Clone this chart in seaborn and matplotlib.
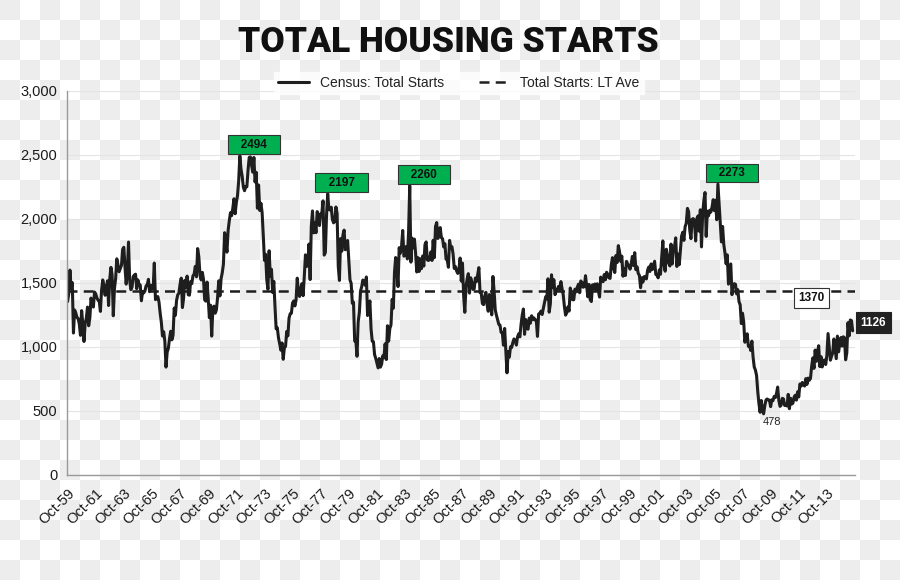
import numpy as np
import pandas as pd
import matplotlib
matplotlib.use("Agg")
import matplotlib.pyplot as plt
import seaborn as sns

# monthly total housing starts (thousands, SAAR), Oct-1959 .. Aug-2015
starts = [
    1355, 1416, 1601,                                                   # 1959 (Oct-Dec)
    1460, 1503, 1109, 1289, 1266, 1231, 1223, 1180, 1091, 1284, 1179, 1043,  # 1960
    1183, 1226, 1312, 1166, 1228, 1382, 1335, 1312, 1429, 1415, 1385, 1365,  # 1961
    1361, 1278, 1443, 1524, 1483, 1404, 1450, 1517, 1324, 1533, 1622, 1564,  # 1962
    1244, 1456, 1534, 1689, 1641, 1588, 1614, 1639, 1763, 1779, 1622, 1491,  # 1963
    1603, 1820, 1517, 1448, 1467, 1550, 1562, 1569, 1455, 1524, 1486, 1484,  # 1964
    1361, 1433, 1423, 1438, 1478, 1488, 1529, 1432, 1482, 1452, 1460, 1656,  # 1965
    1370, 1378, 1394, 1352, 1265, 1194, 1086, 1119, 1046, 843, 961, 990,     # 1966
    1067, 1123, 1056, 1091, 1304, 1248, 1364, 1407, 1421, 1491, 1538, 1308,  # 1967
    1380, 1520, 1466, 1554, 1408, 1405, 1512, 1495, 1556, 1569, 1630, 1548,  # 1968
    1769, 1705, 1561, 1524, 1583, 1528, 1368, 1358, 1507, 1381, 1229, 1327,  # 1969
    1085, 1305, 1319, 1264, 1290, 1385, 1517, 1399, 1534, 1580, 1647, 1893,  # 1970
    1828, 1741, 1910, 1986, 2049, 2026, 2083, 2158, 2041, 2128, 2182, 2295,  # 1971
    2494, 2390, 2334, 2249, 2221, 2254, 2252, 2382, 2481, 2485, 2421, 2366,  # 1972
    2481, 2289, 2365, 2084, 2266, 2067, 2123, 2051, 1874, 1677, 1724, 1526,  # 1973
    1451, 1752, 1555, 1607, 1426, 1513, 1316, 1142, 1150, 1070, 1026, 975,   # 1974
    1032, 904, 993, 1005, 1121, 1087, 1226, 1260, 1264, 1344, 1360, 1321,    # 1975
    1367, 1538, 1421, 1395, 1459, 1495, 1401, 1550, 1720, 1629, 1641, 1804,  # 1976
    1527, 1943, 2063, 1892, 1971, 1893, 2058, 2020, 1949, 2042, 2042, 2142,  # 1977
    1718, 1738, 2032, 2197, 2075, 2070, 2092, 1996, 1970, 1981, 2094, 2044,  # 1978
    1630, 1520, 1847, 1748, 1876, 1913, 1760, 1778, 1832, 1681, 1524, 1498,  # 1979
    1341, 1350, 1047, 1051, 927, 1196, 1269, 1436, 1471, 1523, 1510, 1482,   # 1980
    1547, 1246, 1306, 1360, 1140, 1045, 1041, 940, 911, 873, 837, 910,       # 1981
    843, 866, 931, 917, 1025, 902, 1166, 1046, 1144, 1173, 1372, 1303,       # 1982
    1586, 1699, 1606, 1472, 1776, 1733, 1785, 1910, 1710, 1715, 1785, 1688,  # 1983
    1897, 2260, 1663, 1851, 1774, 1843, 1732, 1586, 1698, 1590, 1689, 1612,  # 1984
    1711, 1632, 1800, 1821, 1680, 1676, 1684, 1743, 1676, 1834, 1698, 1942,  # 1985
    1972, 1848, 1876, 1933, 1854, 1847, 1782, 1807, 1687, 1681, 1623, 1833,  # 1986
    1774, 1784, 1726, 1614, 1628, 1594, 1575, 1605, 1695, 1515, 1656, 1400,  # 1987
    1271, 1473, 1532, 1573, 1421, 1541, 1509, 1450, 1454, 1539, 1511, 1565,  # 1988
    1620, 1425, 1422, 1339, 1331, 1397, 1427, 1332, 1279, 1410, 1351, 1251,  # 1989
    1551, 1437, 1289, 1248, 1212, 1177, 1171, 1115, 1110, 1014, 1145, 969,   # 1990
    798, 965, 921, 1001, 996, 1036, 1063, 1049, 1015, 1079, 1103, 1079,      # 1991
    1176, 1250, 1297, 1099, 1214, 1145, 1139, 1226, 1186, 1244, 1214, 1227,  # 1992
    1210, 1210, 1083, 1258, 1260, 1280, 1254, 1300, 1343, 1392, 1376, 1533,  # 1993
    1272, 1337, 1564, 1465, 1526, 1409, 1439, 1450, 1474, 1450, 1511, 1455,  # 1994
    1407, 1316, 1249, 1267, 1314, 1281, 1461, 1416, 1369, 1369, 1452, 1431,  # 1995
    1467, 1491, 1424, 1516, 1504, 1467, 1472, 1557, 1475, 1392, 1489, 1370,  # 1996
    1355, 1486, 1457, 1492, 1442, 1494, 1437, 1390, 1546, 1520, 1510, 1566,  # 1997
    1525, 1584, 1567, 1540, 1536, 1641, 1698, 1614, 1582, 1715, 1660, 1792,  # 1998
    1748, 1670, 1710, 1553, 1611, 1559, 1669, 1648, 1635, 1608, 1648, 1708,  # 1999
    1636, 1737, 1604, 1626, 1575, 1559, 1463, 1541, 1507, 1549, 1551, 1532,  # 2000
    1600, 1625, 1590, 1649, 1605, 1636, 1670, 1567, 1562, 1540, 1602, 1568,  # 2001
    1698, 1829, 1642, 1592, 1764, 1717, 1655, 1633, 1804, 1648, 1753, 1788,  # 2002
    1853, 1629, 1726, 1643, 1751, 1867, 1897, 1833, 1939, 1967, 2083, 2057,  # 2003
    1911, 1846, 1998, 2003, 1981, 1828, 2002, 2024, 1905, 2072, 1782, 2042,  # 2004
    2144, 2207, 1864, 2061, 2025, 2068, 2054, 2095, 2151, 2065, 2147, 1994,  # 2005
    2273, 2119, 1969, 1821, 1942, 1802, 1737, 1650, 1720, 1491, 1570, 1649,  # 2006
    1409, 1480, 1495, 1490, 1415, 1448, 1354, 1330, 1183, 1264, 1197, 1037,  # 2007
    1084, 1103, 1005, 1013, 973, 1046, 923, 844, 820, 777, 652, 560,         # 2008
    490, 582, 505, 478, 540, 585, 594, 586, 585, 534, 588, 581,              # 2009
    614, 604, 636, 687, 583, 536, 546, 599, 594, 543, 545, 539,              # 2010
    630, 518, 600, 554, 561, 608, 623, 585, 650, 610, 711, 694,              # 2011
    723, 704, 695, 753, 708, 757, 740, 754, 847, 915, 833, 976,              # 2012
    888, 962, 1010, 847, 925, 844, 895, 898, 863, 936, 1105, 1003,           # 2013
    897, 928, 954, 1063, 985, 909, 1085, 962, 1025, 1074, 1007, 1080,        # 2014
    1072, 900, 954, 1190, 1087, 1211, 1206, 1126,                            # 2015 (Jan-Aug)
]
lt_ave = 1440

tick_years = list(range(1959, 2014, 2))
tick_labels = ["Oct-%02d" % (y % 100) for y in tick_years]

peak_labels = ["2494", "2197", "2260", "2273"]
peak_values = [2494, 2197, 2260, 2273]

df = pd.DataFrame({"month": np.arange(len(starts)), "starts": starts})

sns.set_style("white")
plt.rcParams["font.family"] = ["Liberation Sans", "DejaVu Sans"]

fig = plt.figure(figsize=(9, 5.8), dpi=100)
fig.patch.set_facecolor("white")

# transparent-checkerboard backdrop as in the reference image
yy, xx = np.indices((580, 900))
checker = np.where(((xx // 20 + yy // 20) % 2) == 0, 0.93, 1.0)
fig.figimage(np.dstack([checker] * 3), xo=0, yo=0, origin="upper", zorder=-10)

ax = fig.add_axes([67 / 900, 1 - 475 / 580, (855 - 67) / 900, (475 - 91) / 580])
ax.set_facecolor("none")

ax.yaxis.grid(True, color="#e4e4e4", lw=0.8)
ax.set_axisbelow(True)

sns.lineplot(data=df, x="month", y="starts", ax=ax, color="#1e1e1e", lw=2.2,
             label="Census: Total Starts", legend=False)
ax.axhline(lt_ave, color="#1e1e1e", lw=1.8, ls=(0, (4, 2.5)), label="Total Starts: LT Ave")

ax.set_ylim(0, 3000)
ax.set_xlim(-0.5, 672)
ax.set_yticks(range(0, 3001, 500))
ax.set_yticklabels([f"{v:,}" for v in range(0, 3001, 500)], fontsize=10.5, color="#1a1a1a")
ax.set_xticks([i * 24 for i in range(len(tick_labels))])
ax.set_xticklabels(tick_labels, rotation=45, ha="right", rotation_mode="anchor",
                   fontsize=10.5, color="#1a1a1a")
ax.set_xlabel("")
ax.set_ylabel("")
ax.tick_params(axis="both", length=4, width=0.8, color="#999999", direction="out", pad=3)
ax.tick_params(axis="x", pad=4)
for side in ["top", "right"]:
    ax.spines[side].set_visible(False)
for side in ["left", "bottom"]:
    ax.spines[side].set_color("#999999")
    ax.spines[side].set_linewidth(1.0)

# green peak boxes
for lab, val in zip(peak_labels, peak_values):
    idx = starts.index(val)
    ax.annotate(f"   {lab}   ", xy=(idx, val), xytext=(10, 8), textcoords="offset points",
                ha="center", va="center", fontsize=8.5, fontweight="bold", color="#111111",
                bbox=dict(boxstyle="square,pad=0.28", fc="#00b050", ec="#333333", lw=0.8))

low = min(starts)
ax.annotate(str(low), xy=(starts.index(low), low), xytext=(6, -6), textcoords="offset points",
            ha="center", va="center", fontsize=8, color="#222222")

ax.annotate("1370", xy=(635, 1385), ha="center", va="center", fontsize=8.5,
            fontweight="bold", color="#111111",
            bbox=dict(boxstyle="square,pad=0.35", fc="white", ec="#333333", lw=0.8))

last = len(starts) - 1
ax.annotate(str(starts[last]), xy=(last, starts[last]), xytext=(15, 6),
            textcoords="offset points", ha="center", va="center", fontsize=8.5,
            fontweight="bold", color="white", annotation_clip=False,
            bbox=dict(boxstyle="square,pad=0.4", fc="#222222", ec="#222222", lw=0.8))

fig.text(448 / 900, 1 - 42 / 580, "TOTAL HOUSING STARTS", ha="center", va="center",
         fontsize=25.5, fontweight="black", family=["Roboto", "DejaVu Sans"], color="#111111")

handles, labels = ax.get_legend_handles_labels()
leg = fig.legend(handles, labels, loc="center", bbox_to_anchor=(459 / 900, 1 - 83 / 580),
                 ncol=2, frameon=True, fontsize=10, handlelength=2.2, columnspacing=2.5,
                 borderpad=0.3, fancybox=False)
leg.get_frame().set_facecolor("white")
leg.get_frame().set_edgecolor("white")
for t in leg.get_texts():
    t.set_color("#222222")

fig.savefig("out.png", dpi=100)
